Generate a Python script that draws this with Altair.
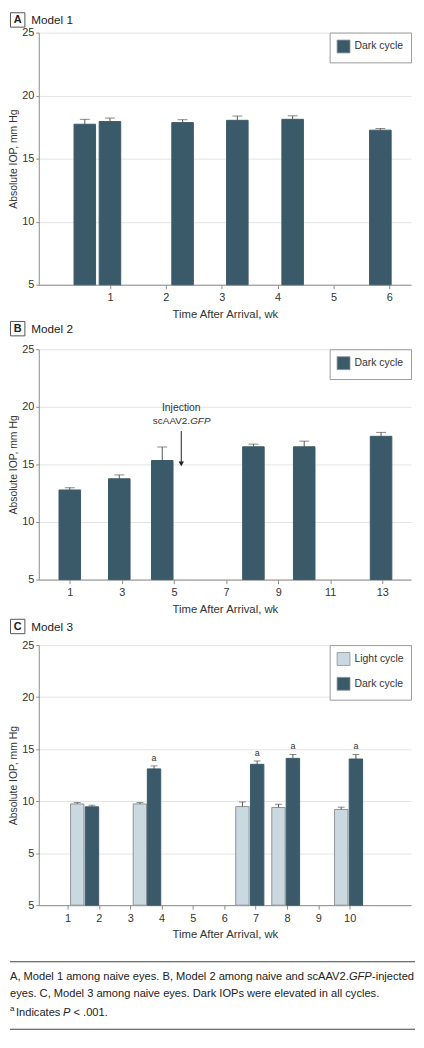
import altair as alt
import pandas as pd

FONT = "Liberation Sans, Arial, sans-serif"
DARK = "#3a5a69"
LIGHT = "#cad8e0"
LIGHT_EDGE = "#8e9499"
GRID = "#e4e4e4"
AXIS = "#8c8c8c"
TXT = "#333333"

panel_letters = ["A", "B", "C"]
panel_titles = ["Model 1", "Model 2", "Model 3"]
x_title = "Time After Arrival, wk"
y_title = "Absolute IOP, mm Hg"

# Model 1 (dark cycle)
m1_week = [0.55, 1.0, 2.3, 3.28, 4.27, 5.84]
m1_iop = [17.73, 17.94, 17.86, 18.04, 18.12, 17.26]
m1_err = [18.12, 18.22, 18.09, 18.38, 18.40, 17.39]
m1_ticks = [1, 2, 3, 4, 5, 6]

# Model 2 (dark cycle)
m2_week = [1.0, 2.9, 4.55, 8.05, 10.0, 12.95]
m2_iop = [12.78, 13.75, 15.34, 16.53, 16.53, 17.44]
m2_err = [12.98, 14.09, 16.51, 16.76, 17.02, 17.78]
m2_ticks = [1, 3, 5, 7, 9, 11, 13]
m2_note = ["Injection", "scAAV2.", "GFP"]

# Model 3
m3_light_week = [1.31, 3.31, 6.58, 7.73, 9.73]
m3_light_iop = [9.73, 9.73, 9.48, 9.39, 9.20]
m3_light_err = [9.86, 9.86, 9.92, 9.70, 9.42]
m3_dark_week = [1.78, 3.76, 7.05, 8.19, 10.2]
m3_dark_iop = [9.45, 13.10, 13.54, 14.11, 14.05]
m3_dark_err = [9.61, 13.39, 13.86, 14.49, 14.49]
m3_sig = ["", "a", "a", "a", "a"]
m3_ticks = [1, 2, 3, 4, 5, 6, 7, 8, 9, 10]

cycles = ["Light cycle", "Dark cycle"]

foot_line1 = ["A, Model 1 among naive eyes. B, Model 2 among naive and scAAV2.", "GFP", "-injected"]
foot_line2 = "eyes. C, Model 3 among naive eyes. Dark IOPs were elevated in all cycles."
foot_line3 = ["a", "Indicates", "P", "< .001."]

FS_FOOT = 11.2
W = 375


def one(text):
    return pd.DataFrame({"t": [text]})


def make_panel(idx, df, xdom, xticks, height, bar_size, cap_size, ymin, yvals,
               legend_domain, legend_range, box_top, top_space, bottom_space, extra=None,
               ylabel_expr=None):
    yaxis_kw = dict(values=yvals, title=y_title, grid=True, gridColor=GRID, domainColor=AXIS,
                    tickColor=AXIS, tickSize=3, labelPadding=2, titlePadding=3,
                    labelFontSize=11, titleFontSize=10.5, labelColor=TXT, titleColor=TXT,
                    labelFont=FONT, titleFont=FONT, titleFontWeight="normal")
    if ylabel_expr:
        yaxis_kw["labelExpr"] = ylabel_expr
    xscale = alt.Scale(domain=xdom, nice=False, zero=False)
    yscale = alt.Scale(domain=[ymin, 25], nice=False, zero=False)
    leg = alt.Legend(orient="top-right", offset=0, title=None, strokeColor="#9a9a9a",
                     fillColor="white", padding=7, symbolType="square", symbolSize=169,
                     symbolStrokeColor=LIGHT_EDGE, symbolStrokeWidth=0.8, symbolOpacity=1,
                     labelFont=FONT, labelFontSize=10.5, labelColor=TXT, rowPadding=7,
                     labelOffset=4)
    bars = alt.Chart(df).mark_bar(size=bar_size, strokeWidth=1, opacity=1).encode(
        x=alt.X("week:Q", scale=xscale,
                axis=alt.Axis(values=xticks, format="d", title=x_title, grid=False,
                              domainColor=AXIS, tickColor=AXIS, tickSize=4, labelPadding=3,
                              titlePadding=6, labelFontSize=11, titleFontSize=11.4,
                              labelColor=TXT, titleColor=TXT, labelFont=FONT, titleFont=FONT,
                              titleFontWeight="normal")),
        y=alt.Y("iop:Q", scale=yscale, axis=alt.Axis(**yaxis_kw)),
        y2=alt.datum(ymin),
        color=alt.Color("cycle:N", scale=alt.Scale(domain=legend_domain, range=legend_range),
                        legend=leg),
        stroke=alt.condition(alt.datum.cycle == "Light cycle", alt.value(LIGHT_EDGE), alt.value(DARK)),
    )
    errs = alt.Chart(df).mark_rule(color="#555555", strokeWidth=1).encode(
        x=alt.X("week:Q", title=x_title),
        y=alt.Y("iop:Q", title=y_title),
        y2="err:Q",
    )
    caps = alt.Chart(df).mark_tick(color="#555555", orient="horizontal", size=cap_size,
                                   thickness=1).encode(
        x=alt.X("week:Q", title=x_title),
        y=alt.Y("err:Q", title=y_title),
    )
    box = alt.Chart(one(panel_letters[idx])).mark_rect(fill="white", stroke="#555555",
                                                       strokeWidth=1).encode(
        x=alt.value(-28.5), x2=alt.value(-14), y=alt.value(box_top), y2=alt.value(box_top + 14.5))
    letter = alt.Chart(one(panel_letters[idx])).mark_text(
        font=FONT, fontSize=11, fontWeight="bold", color="#222222", align="center",
        baseline="middle").encode(x=alt.value(-21.25), y=alt.value(box_top + 7.7), text="t:N")
    ttl = alt.Chart(one(panel_titles[idx])).mark_text(
        font=FONT, fontSize=11.8, color="#222222", align="left", baseline="middle").encode(
        x=alt.value(-7.5), y=alt.value(box_top + 7.5), text="t:N")
    spacer = alt.Chart(one("")).mark_rect(fillOpacity=0, strokeOpacity=0).encode(
        x=alt.value(0), x2=alt.value(10), y=alt.value(top_space), y2=alt.value(height + bottom_space))
    layers = [spacer, bars, errs, caps, box, letter, ttl]
    if extra:
        layers += extra
    return alt.layer(*layers).properties(width=W, height=height)


# ---------- Panel A ----------
dfA = pd.DataFrame({"week": m1_week, "iop": m1_iop, "err": m1_err,
                    "cycle": ["Dark cycle"] * len(m1_week)})
pA = make_panel(0, dfA, [-0.185, 6.3], m1_ticks, 254, 21.7, 10, 5, [5, 10, 15, 20, 25],
                ["Dark cycle"], [DARK], -20, -20, 36)

# ---------- Panel B ----------
dfB = pd.DataFrame({"week": m2_week, "iop": m2_iop, "err": m2_err,
                    "cycle": ["Dark cycle"] * len(m2_week)})
note_inj = alt.Chart(pd.DataFrame({"week": [5.28], "iop": [19.9], "t": [m2_note[0]]})).mark_text(
    font=FONT, fontSize=10.5, color=TXT, align="center", baseline="middle").encode(
    x="week:Q", y="iop:Q", text="t:N")
note_sc = alt.Chart(pd.DataFrame({"week": [5.62], "iop": [18.8], "t": [m2_note[1]]})).mark_text(
    font=FONT, fontSize=10, color=TXT, align="right", baseline="middle").encode(
    x="week:Q", y="iop:Q", text="t:N")
note_gfp = alt.Chart(pd.DataFrame({"week": [5.62], "iop": [18.8], "t": [m2_note[2]]})).mark_text(
    font=FONT, fontSize=10, color=TXT, align="left", baseline="middle", fontStyle="italic").encode(
    x="week:Q", y="iop:Q", text="t:N")
arrow_line = alt.Chart(pd.DataFrame({"week": [5.28], "iop": [17.9], "err": [15.0]})).mark_rule(
    color="#222222", strokeWidth=1).encode(x="week:Q", y="iop:Q", y2="err:Q")
arrow_head = alt.Chart(pd.DataFrame({"week": [5.28], "iop": [15.05]})).mark_point(
    shape="triangle-down", filled=True, size=30, color="#222222", opacity=1).encode(
    x="week:Q", y="iop:Q")
pB = make_panel(1, dfB, [0.0, 13.91], m2_ticks, 232, 21.7, 10, 5, [5, 10, 15, 20, 25],
                ["Dark cycle"], [DARK], -28, -28, 36,
                extra=[note_inj, note_sc, note_gfp, arrow_line, arrow_head])

# ---------- Panel C ----------
dfC = pd.DataFrame({
    "week": m3_light_week + m3_dark_week,
    "iop": m3_light_iop + m3_dark_iop,
    "err": m3_light_err + m3_dark_err,
    "cycle": ["Light cycle"] * len(m3_light_week) + ["Dark cycle"] * len(m3_dark_week),
    "sig": [""] * len(m3_light_week) + m3_sig,
})
sig = alt.Chart(dfC).mark_text(font=FONT, fontSize=9, color=TXT, dy=-8,
                               baseline="middle").encode(
    x="week:Q", y=alt.Y("err:Q", title=y_title), text="sig:N")

HC = 262
XR = 379  # right end of footnote rules (relative to plot left)
rule_top = alt.Chart(one("")).mark_rule(color="#444444", strokeWidth=1.2).encode(
    x=alt.value(-29), x2=alt.value(XR), y=alt.value(HC + 57))
rule_bot = alt.Chart(one("")).mark_rule(color="#444444", strokeWidth=1.2).encode(
    x=alt.value(-29), x2=alt.value(XR), y=alt.value(HC + 125))


def ftext(t, x, y, align="left", italic=False, size=FS_FOOT):
    kw = dict(font=FONT, fontSize=size, color="#222222", align=align, baseline="middle")
    if italic:
        kw["fontStyle"] = "italic"
    return alt.Chart(one(t)).mark_text(**kw).encode(x=alt.value(x), y=alt.value(y), text="t:N")


R1 = XR - 1
W_INJ = 42.6
W_GFP = 23.1
f1c = ftext(foot_line1[2], R1, HC + 72, align="right")
f1b = ftext(foot_line1[1], R1 - W_INJ, HC + 72, align="right", italic=True)
f1a = ftext(foot_line1[0], R1 - W_INJ - W_GFP, HC + 72, align="right")
f2 = ftext(foot_line2, -29, HC + 89)
f3a = ftext(foot_line3[0], -29, HC + 105, size=8)
f3b = ftext(foot_line3[1], -23, HC + 109)
f3c = ftext(foot_line3[2], 24.5, HC + 109, italic=True)
f3d = ftext(foot_line3[3], 35, HC + 109)

pC = make_panel(2, dfC, [0.242, 11.8], m3_ticks, HC, 13.5, 7, 0, [0, 5, 10, 15, 20, 25],
                cycles, [LIGHT, DARK], -26, -30, 20,
                extra=[sig, rule_top, rule_bot, f1a, f1b, f1c, f2, f3a, f3b, f3c, f3d],
                ylabel_expr="datum.value == 0 ? '5' : datum.label")

chart = alt.vconcat(pA, pB, pC, spacing=0).resolve_scale(color="independent").resolve_legend(
    color="independent").properties(padding=0).configure_view(stroke=None)

chart.save("out.html", embed_options={"renderer": "svg", "actions": False})
